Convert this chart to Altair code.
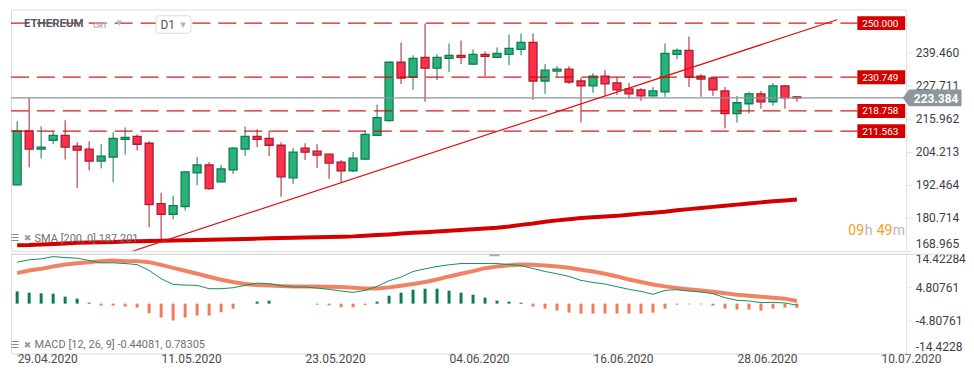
import json
import altair as alt
import pandas as pd

# ---------------- data ----------------
x_tick_idx = [0, 12, 24, 36, 48, 60, 72]
x_tick_labels = ["29.04.2020", "11.05.2020", "23.05.2020", "04.06.2020",
                 "16.06.2020", "28.06.2020", "10.07.2020"]

opens = [192.46, 211.67, 205.13, 208.29, 210.05, 206.18, 205.13, 200.91, 202.31, 208.65,
         209.70, 207.24, 185.78, 181.91, 184.73, 196.69, 199.50, 193.52, 197.74, 205.13,
         209.70, 209.00, 206.53, 194.93, 205.48, 204.42, 203.37, 200.56, 197.39, 201.61,
         210.05, 215.33, 236.08, 230.81, 237.84, 233.97, 237.49, 238.55, 235.38, 238.90,
         237.84, 238.90, 240.66, 243.12, 229.40, 232.92, 233.62, 229.40, 227.64, 231.16,
         228.70, 226.59, 226.23, 224.12, 225.53, 238.90, 240.31, 231.16, 230.46, 225.88,
         217.79, 221.31, 224.83, 222.01, 227.64, 223.77]
highs = [215.08, 223.42, 213.32, 211.46, 215.43, 207.59, 207.94, 206.89, 211.21, 212.87,
         210.40, 207.94, 189.65, 188.60, 197.20, 202.31, 200.56, 199.50, 205.83, 213.22,
         212.16, 211.81, 207.59, 205.48, 207.24, 206.89, 203.50, 201.26, 204.07, 211.81,
         220.96, 236.20, 243.12, 238.55, 249.80, 238.90, 242.77, 243.82, 240.66, 239.95,
         241.36, 245.93, 246.29, 246.29, 235.38, 234.68, 234.68, 230.46, 232.21, 233.27,
         230.81, 228.70, 226.94, 227.29, 242.77, 241.01, 245.23, 231.86, 230.60, 227.29,
         224.12, 225.53, 225.88, 228.70, 227.99, 224.12]
lows = [192.30, 198.66, 201.82, 206.89, 201.47, 191.27, 197.60, 198.30, 193.38, 203.23,
        204.64, 177.34, 172.62, 180.15, 183.32, 192.32, 190.71, 193.40, 196.33, 202.67,
        205.83, 202.67, 188.24, 192.82, 201.26, 198.44, 194.57, 193.17, 197.04, 201.26,
        209.90, 215.00, 228.35, 226.23, 222.01, 229.75, 232.57, 235.38, 235.03, 231.16,
        237.49, 235.03, 238.55, 222.72, 224.83, 230.81, 228.35, 214.63, 225.18, 224.12,
        224.48, 223.07, 222.36, 224.00, 223.77, 237.14, 227.29, 223.77, 224.12, 212.52,
        214.63, 217.79, 219.55, 220.61, 219.55, 222.01]
closes = [211.67, 205.13, 205.83, 210.05, 205.83, 204.78, 200.91, 202.67, 209.00, 209.35,
          206.89, 185.43, 181.91, 185.08, 197.04, 199.50, 191.06, 198.09, 205.48, 209.70,
          208.65, 206.53, 195.28, 204.07, 204.07, 203.02, 200.20, 197.39, 201.96, 210.40,
          216.38, 236.08, 230.46, 237.49, 233.97, 237.84, 238.55, 237.84, 238.90, 238.19,
          239.25, 241.01, 243.12, 229.40, 233.27, 233.62, 229.05, 227.64, 231.16, 228.35,
          226.23, 224.83, 224.12, 225.88, 239.25, 240.31, 230.81, 230.10, 226.23, 217.79,
          221.66, 224.83, 222.01, 227.64, 223.42, 223.384]

sma200 = [170.9, 171.0, 171.2, 171.4, 171.6, 171.8, 171.9, 172.0, 172.1, 172.3,
          172.4, 172.45, 172.5, 172.6, 172.7, 172.8, 172.9, 173.0, 173.1, 173.2,
          173.3, 173.4, 173.5, 173.6, 173.7, 173.8, 173.9, 174.0, 174.1, 174.3,
          174.55, 174.8, 175.1, 175.35, 175.6, 175.85, 176.1, 176.35, 176.6, 176.9,
          177.2, 177.6, 178.2, 178.7, 179.3, 179.8, 180.2, 180.6, 180.9, 181.15,
          181.4, 181.8, 182.2, 182.5, 182.9, 183.4, 183.8, 184.2, 184.6, 185.0,
          185.4, 185.8, 186.2, 186.6, 186.9, 187.201]

macd_line = [12.0, 12.67, 12.95, 13.62, 13.33, 13.15, 12.47, 11.8, 11.8, 11.6,
             11.3, 9.6, 7.2, 5.56, 5.37, 5.28, 4.32, 4.32, 4.6, 5.28,
             5.95, 5.76, 5.18, 4.8, 4.8, 4.51, 4.13, 3.65, 3.26, 3.84,
             4.99, 6.62, 7.68, 9.3, 10.07, 10.75, 11.23, 11.6, 11.6, 11.6,
             11.6, 11.3, 11.02, 10.17, 9.3, 8.64, 7.87, 6.72, 6.14, 5.66,
             4.9, 4.13, 3.55, 2.69, 3.84, 4.03, 3.65, 3.36, 2.88, 1.73,
             0.96, 0.77, 0.29, 0.38, 0.19, -0.44081]
macd_signal = [8.84, 9.6, 10.07, 10.75, 11.3, 11.7, 12.0, 12.3, 12.47, 12.3,
               12.3, 12.0, 11.23, 10.36, 9.5, 8.64, 7.77, 6.9, 6.24, 5.66,
               5.37, 5.28, 5.08, 4.99, 4.99, 4.99, 4.9, 4.8, 4.6, 4.41,
               4.41, 4.7, 5.18, 5.66, 6.24, 7.0, 7.87, 8.64, 9.4, 10.26,
               10.75, 11.13, 11.3, 11.23, 11.02, 10.75, 10.36, 9.79, 9.3, 8.64,
               7.87, 7.0, 6.24, 5.56, 4.99, 4.51, 4.13, 3.84, 3.45, 2.98,
               2.59, 2.3, 2.01, 1.73, 1.44, 0.78305]
macd_hist = [3.54, 3.17, 2.98, 2.88, 2.02, 1.44, 0.29, -0.58, -0.58, -0.86,
             -1.15, -2.78, -4.03, -4.89, -4.03, -3.45, -3.45, -2.49, -1.44, 0.0,
             0.58, 0.86, 0.0, 0.0, 0.0, -0.29, -0.48, -1.06, -1.06, -0.38,
             0.58, 2.3, 3.17, 4.03, 4.32, 4.32, 3.74, 3.17, 2.59, 1.73,
             0.86, 0.58, 0.29, -0.86, -1.44, -2.01, -2.59, -2.88, -2.88, -2.88,
             -2.88, -2.88, -2.88, -2.59, -1.44, -0.29, -0.2, -0.2, -0.58, -1.44,
             -1.73, -1.73, -2.01, -1.44, -1.15, -1.22]

price_ticks = [168.965, 180.714, 192.464, 204.213, 215.962, 227.711, 239.460]
macd_ticks = [-14.42284, -4.80761, 4.80761, 14.42284]
macd_tick_labels = ["-14.4228", "-4.80761", "4.80761", "14.42284"]
level_prices = [250.000, 230.749, 218.758, 211.563]
last_price = [223.384]
trend_idx = [9.5, 68.35]
trend_price = [168.66, 251.21]

# ---------------- frames ----------------
N = len(closes)
idx = list(range(N))
candles = pd.DataFrame({"i": idx, "open": opens, "high": highs, "low": lows, "close": closes})
sma_df = pd.DataFrame({"i": idx, "sma": sma200})
macd_df = pd.DataFrame({"i": idx, "macd": macd_line, "signal": macd_signal, "hist": macd_hist})
levels = pd.DataFrame({"price": level_prices})
last_df = pd.DataFrame({"price": last_price})
trend = pd.DataFrame({"i": trend_idx, "p": trend_price})

# ---------------- scales & axes ----------------
W = 898
HP = 242
HM = 100
FONT = "Roboto"

UP_FILL, DOWN_FILL = "#26b27a", "#ff3049"
UP_LINE, DOWN_LINE = "#137a4e", "#a81d2e"
HIST_POS, HIST_NEG = "#0b7d4f", "#f07c5c"

xs = alt.Scale(domain=[-0.0986, 73.69], nice=False, zero=False)
ys = alt.Scale(domain=[168.965, 254.83], nice=False, zero=False)
ym = alt.Scale(domain=[-14.42284, 14.42284], nice=False, zero=False)

price_axis = alt.Axis(orient="right", values=price_ticks,
                      labelExpr="format(datum.value, '.3f')", title=None,
                      domain=False, grid=False, tickSize=5, tickColor="#e2e2e2",
                      labelPadding=4, labelFontSize=12, labelColor="#3b4147",
                      labelFont=FONT, labelFlush=True, labelOverlap=False)
macd_axis = alt.Axis(orient="right", values=macd_ticks,
                     labelExpr=f"{json.dumps(macd_tick_labels)}[indexof({json.dumps(macd_ticks)}, datum.value)]",
                     title=None, domain=False, grid=False, tickSize=5, tickColor="#e2e2e2",
                     labelPadding=4, labelFontSize=12, labelColor="#3b4147",
                     labelFont=FONT, labelFlush=True, labelOverlap=False)
x_axis = alt.Axis(values=x_tick_idx,
                  labelExpr=f"{json.dumps(x_tick_labels)}[indexof({json.dumps(x_tick_idx)}, datum.value)]",
                  title=None, domain=False, grid=False, tickSize=2, tickColor="#cccccc",
                  labelAlign="left", labelFlush=False, labelPadding=-2, labelFontSize=12,
                  labelColor="#4a4a4a", labelFont=FONT, labelOverlap=False)

XP = alt.X("i:Q", scale=xs, axis=None)


def YP(field):
    return alt.Y(field, scale=ys, axis=price_axis)


IS_UP = "datum.close >= datum.open"


def ui_text(text, x, y, **kw):
    return alt.Chart(pd.DataFrame({"t": [text]})).mark_text(**kw).encode(
        x=alt.value(x), y=alt.value(y), text="t:N")


BOX = "M-1,-0.2917L1,-0.2917L1,0.2917L-1,0.2917Z"
TAG = "M-1,0L-0.786,-0.283L1,-0.283L1,0.283L-0.786,0.283Z"
RBOX = ("M-0.83,-0.503L0.83,-0.503Q1,-0.503 1,-0.333L1,0.333Q1,0.503 0.83,0.503"
        "L-0.83,0.503Q-1,0.503 -1,0.333L-1,-0.333Q-1,-0.503 -0.83,-0.503Z")

# ---------------- price panel ----------------
sma_layer = alt.Chart(sma_df).mark_line(color="#d40000", strokeWidth=4, clip=True).encode(
    x=XP, y=YP("sma:Q"))
wicks = alt.Chart(candles).mark_rule(strokeWidth=1, clip=True).encode(
    x=XP, y=YP("low:Q"), y2="high:Q",
    color=alt.condition(IS_UP, alt.value(UP_LINE), alt.value(DOWN_LINE)))
bodies = alt.Chart(candles).mark_bar(size=8, strokeWidth=1.3, clip=True).encode(
    x=XP, y=YP("open:Q"), y2="close:Q",
    fill=alt.condition(IS_UP, alt.value(UP_FILL), alt.value(DOWN_FILL)),
    stroke=alt.condition(IS_UP, alt.value(UP_LINE), alt.value(DOWN_LINE)))
level_lines = alt.Chart(levels).mark_rule(color="#d40000", strokeWidth=1.3,
                                          strokeDash=[18, 8], opacity=0.9).encode(
    y=YP("price:Q"), x=alt.value(0), x2=alt.value(849))
last_line = alt.Chart(last_df).mark_rule(color="#8c969b", strokeWidth=1.2).encode(
    y=YP("price:Q"), x=alt.value(0), x2=alt.value(896))
trend_line = alt.Chart(trend).mark_line(color="#dd1111", strokeWidth=1.2, clip=True).encode(
    x=XP, y=YP("p:Q"))
level_boxes = alt.Chart(levels).mark_point(shape=BOX, size=2304, filled=True, opacity=1,
                                           color="#d40000", strokeWidth=0).encode(
    x=alt.value(873), y=YP("price:Q"))
level_text = alt.Chart(levels).mark_text(color="white", fontSize=10, font=FONT,
                                         align="center", baseline="middle", dy=0.5).encode(
    x=alt.value(872), y=YP("price:Q"), text=alt.Text("price:Q", format=".3f"))
tag_box = alt.Chart(last_df).mark_point(shape=TAG, size=3481, filled=True, opacity=1,
                                        color="#8c969b", strokeWidth=0).encode(
    x=alt.value(924), y=YP("price:Q"))
tag_text = alt.Chart(last_df).mark_text(color="white", fontSize=12, fontWeight="bold",
                                        font=FONT, align="center", baseline="middle",
                                        dy=1.5).encode(
    x=alt.value(928), y=YP("price:Q"), text=alt.Text("price:Q", format=".3f"))

d1_box = alt.Chart(pd.DataFrame({"t": ["D1"]})).mark_point(
    shape=RBOX, size=1225, filled=True, fill="white", stroke="#dcdcdc",
    strokeWidth=1, opacity=1).encode(x=alt.value(163), y=alt.value(15))

ui_price = [
    ui_text("ETHEREUM", 13, 14.5, fontSize=11.5, fontWeight="bold", font=FONT,
            color="#505b66", align="left", baseline="middle"),
    ui_text("CRT", 82.5, 16.8, fontSize=7.5, fontWeight="bold", font=FONT,
            color="#a0afbb", align="left", baseline="middle"),
    ui_text("▾", 108.5, 13.5, fontSize=11, font="DejaVu Sans", color="#b3bcc4",
            align="center", baseline="middle"),
    d1_box,
    ui_text("D1", 150, 15.5, fontSize=12, font=FONT, color="#555555",
            align="left", baseline="middle"),
    ui_text("▾", 172.5, 15.5, fontSize=11, font="DejaVu Sans", color="#b3b3b3",
            align="center", baseline="middle"),
    ui_text("☰", 4, 229.5, fontSize=10, font="DejaVu Sans", color="#8e8e8e",
            align="center", baseline="middle"),
    ui_text("✖", 16.5, 229.5, fontSize=9, font="DejaVu Sans", color="#9a9a9a",
            align="center", baseline="middle"),
    ui_text("SMA [200, 0] 187.201", 23.7, 230.5, fontSize=11, font=FONT,
            color="#707070", align="left", baseline="middle"),
    ui_text("09", 840, 222, fontSize=14, font=FONT, color="#f59c1a",
            align="left", baseline="middle"),
    ui_text("h", 856.5, 222, fontSize=14, font=FONT, color="#b5b5b5",
            align="left", baseline="middle"),
    ui_text("49", 868.5, 222, fontSize=14, font=FONT, color="#f59c1a",
            align="left", baseline="middle"),
    ui_text("m", 884.5, 222, fontSize=14, font=FONT, color="#b5b5b5",
            align="left", baseline="middle"),
]

price = alt.layer(sma_layer, wicks, bodies, level_lines, last_line, trend_line,
                  level_boxes, level_text, tag_box, tag_text, *ui_price).properties(
    width=W, height=HP)

# ---------------- MACD panel ----------------
XM = alt.X("i:Q", scale=xs, axis=x_axis)
hist = alt.Chart(macd_df).mark_bar(size=3).encode(
    x=XM, y=alt.Y("hist:Q", scale=ym, axis=macd_axis), y2=alt.datum(0),
    color=alt.condition("datum.hist >= 0", alt.value(HIST_POS), alt.value(HIST_NEG)))
signal = alt.Chart(macd_df).mark_line(color=HIST_NEG, strokeWidth=4, opacity=0.95).encode(
    x=XM, y=alt.Y("signal:Q", scale=ym, axis=macd_axis))
macd = alt.Chart(macd_df).mark_line(color="#168f5e", strokeWidth=1).encode(
    x=XM, y=alt.Y("macd:Q", scale=ym, axis=macd_axis))
sep = alt.Chart(pd.DataFrame({"a": [0]})).mark_rule(color="#d8d8d8", strokeWidth=1).encode(
    x=alt.value(0), x2=alt.value(950), y=alt.value(0.5))
handle = alt.Chart(pd.DataFrame({"a": [0]})).mark_rule(color="#a9a9a9", strokeWidth=2).encode(
    x=alt.value(480), x2=alt.value(490), y=alt.value(1.5))
ui_macd = [
    ui_text("☰", 4, 91.5, fontSize=10, font="DejaVu Sans", color="#8e8e8e",
            align="center", baseline="middle"),
    ui_text("✖", 16.5, 91.5, fontSize=9, font="DejaVu Sans", color="#9a9a9a",
            align="center", baseline="middle"),
    ui_text("MACD [12, 26, 9] -0.44081,  0.78305", 23.7, 92, fontSize=11, font=FONT,
            color="#707070", align="left", baseline="middle"),
]
macd_panel = alt.layer(hist, signal, macd, sep, handle, *ui_macd).properties(
    width=W, height=HM)

chart = alt.vconcat(price, macd_panel, spacing=0).properties(
    padding=0, background="white"
).configure_view(stroke=None).configure(font=FONT)

chart.save("out.html", embed_options={"renderer": "svg", "actions": False})
